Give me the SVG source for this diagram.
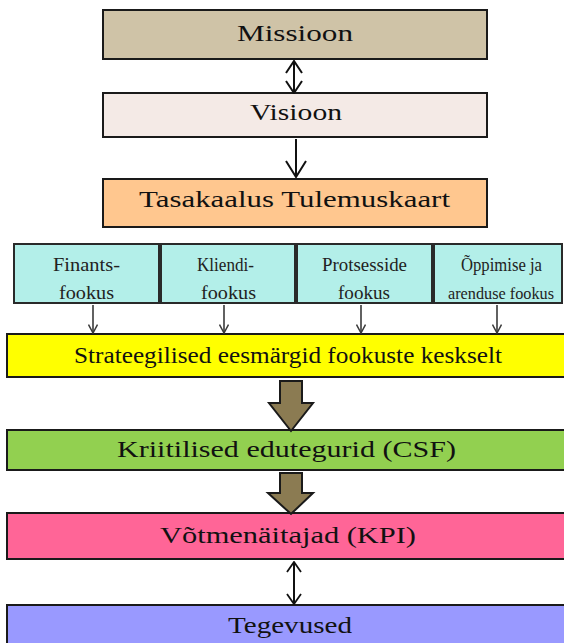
<svg xmlns="http://www.w3.org/2000/svg" width="564" height="643" viewBox="0 0 564 643">
  <style>
    .box { stroke: #1a1a1a; stroke-width: 2; }
    .focus { fill: #B3EFE9; stroke: #2a2a2a; stroke-width: 2; }
    .big { font-family: "Liberation Serif", "Times New Roman", serif; font-size: 23px; fill: #111; }
    .small { font-family: "Liberation Serif", "Times New Roman", serif; font-size: 19px; fill: #222; }
    .tight { font-size: 17px; }
    .thin { stroke: #111; stroke-width: 2; fill: none; }
    .feed { stroke: #3a3a3a; stroke-width: 1.6; fill: none; }
    .block { fill: #8B7B52; stroke: #1a1a1a; stroke-width: 2; stroke-linejoin: miter; }
  </style>
  <defs>
    <!-- open chevron heads in several sizes -->
    <marker id="veeMid" viewBox="0 0 14 18" refX="13" refY="9" markerWidth="14" markerHeight="18" markerUnits="userSpaceOnUse" orient="auto-start-reverse">
      <path d="M1,1 L13,9 L1,17" fill="none" stroke="#111" stroke-width="2"/>
    </marker>
    <marker id="veeLarge" viewBox="0 0 18 22" refX="17" refY="11" markerWidth="18" markerHeight="22" markerUnits="userSpaceOnUse" orient="auto-start-reverse">
      <path d="M1,1 L17,11 L1,21" fill="none" stroke="#111" stroke-width="2"/>
    </marker>
    <marker id="vee" viewBox="0 0 12 16" refX="11" refY="8" markerWidth="12" markerHeight="16" markerUnits="userSpaceOnUse" orient="auto-start-reverse">
      <path d="M1,1 L11,8 L1,15" fill="none" stroke="#111" stroke-width="1.8"/>
    </marker>
    <marker id="veeSmall" viewBox="0 0 10 10" refX="9.5" refY="5" markerWidth="10" markerHeight="10" markerUnits="userSpaceOnUse" orient="auto-start-reverse">
      <path d="M1,0.5 L9.5,5 L1,9.5" fill="none" stroke="#3a3a3a" stroke-width="1.5"/>
    </marker>
  </defs>

  <rect width="564" height="643" fill="#ffffff"/>

  <g id="missioon">
    <rect class="box" x="103" y="10" width="384" height="49" fill="#CFC3A7"/>
    <text class="big" x="237" y="41" textLength="116" lengthAdjust="spacingAndGlyphs">Missioon</text>
  </g>

  <g id="visioon">
    <rect class="box" x="103" y="93" width="384" height="44" fill="#F4EAE6"/>
    <text class="big" x="250" y="120" textLength="92" lengthAdjust="spacingAndGlyphs">Visioon</text>
  </g>

  <g id="tasakaalus">
    <rect class="box" x="103" y="179" width="384" height="48" fill="#FFC78F"/>
    <text class="big" x="139" y="207" textLength="311" lengthAdjust="spacingAndGlyphs">Tasakaalus Tulemuskaart</text>
  </g>

  <g id="finants">
    <rect class="focus" x="14" y="244" width="145" height="59"/>
    <text class="small" x="53" y="271" textLength="67" lengthAdjust="spacingAndGlyphs">Finants-</text>
    <text class="small" x="59" y="299" textLength="55" lengthAdjust="spacingAndGlyphs">fookus</text>
  </g>

  <g id="kliendi">
    <rect class="focus" x="161" y="244" width="134" height="59"/>
    <text class="small" x="197" y="271" textLength="57" lengthAdjust="spacingAndGlyphs">Kliendi-</text>
    <text class="small" x="201" y="299" textLength="55" lengthAdjust="spacingAndGlyphs">fookus</text>
  </g>

  <g id="protsesside">
    <rect class="focus" x="297" y="244" width="135" height="59"/>
    <text class="small" x="322" y="271" textLength="85" lengthAdjust="spacingAndGlyphs">Protsesside</text>
    <text class="small" x="338" y="299" textLength="52" lengthAdjust="spacingAndGlyphs">fookus</text>
  </g>

  <g id="oppimise">
    <rect class="focus" x="434" y="244" width="128" height="59"/>
    <text class="small" x="461" y="271" textLength="81" lengthAdjust="spacingAndGlyphs">Õppimise ja</text>
    <text class="small tight" x="448" y="299" textLength="106" lengthAdjust="spacingAndGlyphs">arenduse fookus</text>
  </g>

  <g id="eesmargid">
    <rect class="box" x="7" y="334" width="572" height="43" fill="#FFFF00"/>
    <text class="big" x="74" y="363" textLength="428" lengthAdjust="spacingAndGlyphs">Strateegilised eesmärgid fookuste keskselt</text>
  </g>

  <g id="csf">
    <rect class="box" x="7" y="430" width="572" height="40" fill="#92D050"/>
    <text class="big" x="117" y="457" textLength="339" lengthAdjust="spacingAndGlyphs">Kriitilised edutegurid (CSF)</text>
  </g>

  <g id="kpi">
    <rect class="box" x="7" y="513" width="572" height="46" fill="#FF6597"/>
    <text class="big" x="160" y="543" textLength="256" lengthAdjust="spacingAndGlyphs">Võtmenäitajad (KPI)</text>
  </g>

  <g id="tegevused">
    <rect class="box" x="7" y="605" width="572" height="46" fill="#9999FF"/>
    <text class="big" x="228" y="633" textLength="124" lengthAdjust="spacingAndGlyphs">Tegevused</text>
  </g>

  <g id="connectors">
    <!-- Missioon <-> Visioon -->
    <line class="thin" x1="294" y1="61" x2="294" y2="93" marker-start="url(#veeMid)" marker-end="url(#veeMid)"/>
    <!-- Visioon -> Tasakaalus Tulemuskaart -->
    <line class="thin" x1="296" y1="139" x2="296" y2="177" marker-end="url(#veeLarge)"/>
    <!-- focus boxes -> strategic goals -->
    <line class="feed" x1="93" y1="305" x2="93" y2="333" marker-end="url(#veeSmall)"/>
    <line class="feed" x1="224" y1="305" x2="224" y2="333" marker-end="url(#veeSmall)"/>
    <line class="feed" x1="361" y1="305" x2="361" y2="333" marker-end="url(#veeSmall)"/>
    <line class="feed" x1="497" y1="305" x2="497" y2="333" marker-end="url(#veeSmall)"/>
    <!-- block arrows -->
    <polygon class="block" points="280,381 302,381 302,403 313,403 291,431 269,403 280,403"/>
    <polygon class="block" points="280,473 302,473 302,493 313,493 291,514 268,493 280,493"/>
    <!-- KPI <-> Tegevused -->
    <line class="thin" x1="294" y1="562" x2="294" y2="604" stroke-width="1.6" marker-start="url(#vee)" marker-end="url(#vee)"/>
  </g>
</svg>
